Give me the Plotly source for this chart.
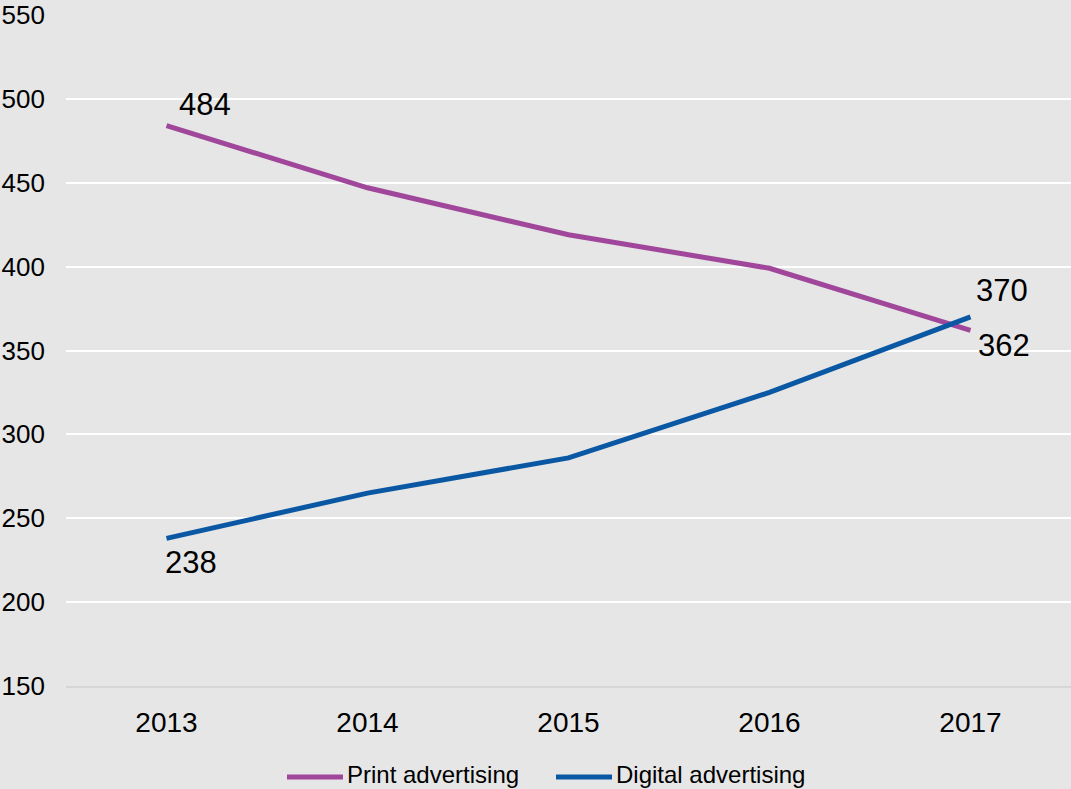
import plotly.graph_objects as go

years = ["2013", "2014", "2015", "2016", "2017"]
print_ad = [484, 447, 419, 399, 362]
digital_ad = [238, 265, 286, 325, 370]
y_ticks = [150, 200, 250, 300, 350, 400, 450, 500, 550]
series_names = ["Print advertising", "Digital advertising"]

PURPLE = "#a0479b"
BLUE = "#0a58a3"
BG = "#e6e6e6"
FONT = "Liberation Sans, Arial, sans-serif"

W, H = 1071, 789
ML, MR, MT, MB = 66, 0, 15, 103
PW, PH = W - ML - MR, H - MT - MB

xpos = list(range(len(years)))

fig = go.Figure()
fig.add_trace(go.Scatter(x=xpos, y=print_ad, mode="lines", name=series_names[0],
                         line=dict(color=PURPLE, width=5), showlegend=False))
fig.add_trace(go.Scatter(x=xpos, y=digital_ad, mode="lines", name=series_names[1],
                         line=dict(color=BLUE, width=5), showlegend=False))

def lab(i, y, xs, ys):
    fig.add_annotation(x=xpos[i], y=y, xref="x", yref="y", text=str(y), showarrow=False,
                       xshift=xs, yshift=ys,
                       font=dict(size=31, color="black", family=FONT))

lab(0, print_ad[0], 38, 21)
lab(0, digital_ad[0], 24, -24)
lab(-1, digital_ad[-1], 31, 26)
lab(-1, print_ad[-1], 33, -15)

# custom legend (pixel layout -> paper coords)
def px_x(p):
    return (p - ML) / PW

def px_y(p):
    return (H - MB - p) / PH

legend_items = [(series_names[0], PURPLE, 287), (series_names[1], BLUE, 556)]
for name, col, x0 in legend_items:
    fig.add_shape(type="line", xref="paper", yref="paper",
                  x0=px_x(x0), x1=px_x(x0 + 56), y0=px_y(777), y1=px_y(777),
                  line=dict(color=col, width=5))
    fig.add_annotation(xref="paper", yref="paper", x=px_x(x0 + 58), y=px_y(774),
                       xanchor="left", yanchor="middle", text=name, showarrow=False,
                       font=dict(size=24, color="black", family=FONT))

fig.update_layout(
    width=W, height=H,
    paper_bgcolor=BG, plot_bgcolor=BG,
    margin=dict(l=ML, r=MR, t=MT, b=MB, autoexpand=False),
    font=dict(family=FONT, size=25, color="black"),
    showlegend=False,
    xaxis=dict(range=[-0.5, 4.5], tickvals=xpos, ticktext=years, showgrid=False,
               zeroline=False, showline=True, linecolor="#d6d6d6", linewidth=2,
               ticks="", ticklabelstandoff=10, tickfont=dict(size=28)),
    yaxis=dict(range=[150, 550], tickvals=y_ticks, showgrid=True, gridcolor="white",
               gridwidth=2, zeroline=False, showline=False, ticks="",
               ticklabelstandoff=20, tickfont=dict(size=26)),
)

fig.write_html("out.html")
